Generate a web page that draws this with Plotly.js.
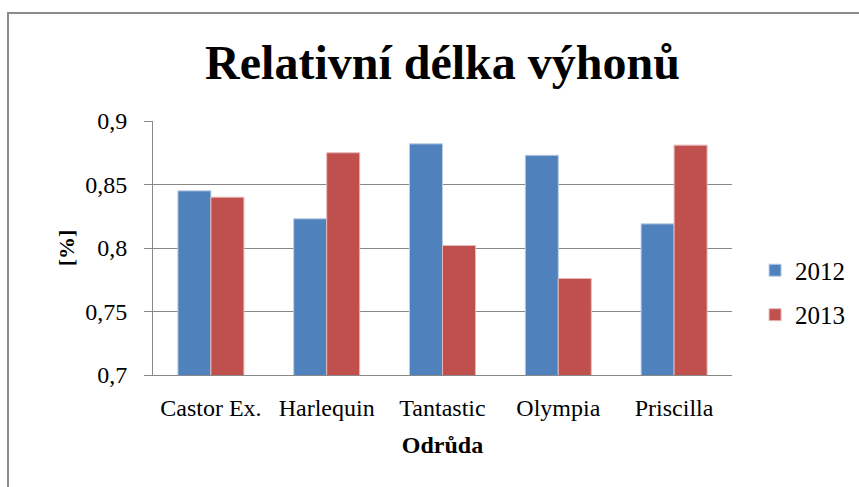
<!DOCTYPE html>
<html>
<head>
<meta charset="utf-8">
<script src="https://cdn.plot.ly/plotly-3.0.1.min.js"></script>
<style>
body{margin:0;background:#fff;}
#frame{position:absolute;left:7px;top:12px;width:900px;height:520px;border:2px solid #8c8c8c;box-sizing:border-box;}
#chart{position:absolute;left:0;top:0;width:859px;height:487px;}
</style>
</head>
<body>
<div id="frame"></div>
<div id="chart"></div>
<script>
const categories = ["Castor Ex.", "Harlequin", "Tantastic", "Olympia", "Priscilla"];
const values2012 = [0.845, 0.823, 0.882, 0.873, 0.819];
const values2013 = [0.840, 0.875, 0.802, 0.776, 0.881];
const seriesNames = ["2012", "2013"];

const serif = "'Liberation Serif', 'Times New Roman', serif";
const traces = [
  {type:"bar", name:seriesNames[0], x:categories, y:values2012, legendgroup:"a",
   marker:{color:"#4F81BD", line:{color:"#b9cde5", width:1}}},
  {type:"bar", name:seriesNames[1], x:categories, y:values2013, legendgroup:"b",
   marker:{color:"#C0504D", line:{color:"#e6b9b8", width:1}}}
];
const layout = {
  width:859, height:487,
  paper_bgcolor:"rgba(0,0,0,0)", plot_bgcolor:"rgba(0,0,0,0)",
  margin:{l:153, r:127, t:121, b:112},
  separators:", ",
  barmode:"group", bargap:0.43, bargroupgap:0,
  font:{family:serif, color:"#000", size:24},
  title:{text:"<b>Relativní délka výhonů</b>", font:{family:serif, size:48, color:"#000"},
         x:0.5, xref:"paper", y:0.872, yanchor:"middle"},
  xaxis:{showline:true, linecolor:"#888", linewidth:1, ticks:"",
         tickfont:{family:serif, size:24}, ticklabelstandoff:11,
         title:{text:"<b>Odrůda</b>", font:{family:serif, size:24}, standoff:16}},
  yaxis:{range:[0.7,0.9], dtick:0.05, showline:true, linecolor:"#888", linewidth:1,
         gridcolor:"#888", gridwidth:1, ticks:"outside", ticklen:8, tickcolor:"#888",
         tickfont:{family:serif, size:24}, zeroline:false, ticklabelstandoff:12,
         title:{text:"<b>[%]</b>", font:{family:serif, size:22}, standoff:4}},
  legend:{xref:"container", x:0.879, xanchor:"left", yref:"paper", y:0.325, yanchor:"middle",
          traceorder:"grouped", font:{family:serif, size:25}, itemwidth:30, tracegroupgap:9}
};
Plotly.newPlot("chart", traces, layout, {displayModeBar:false});
</script>
</body>
</html>
